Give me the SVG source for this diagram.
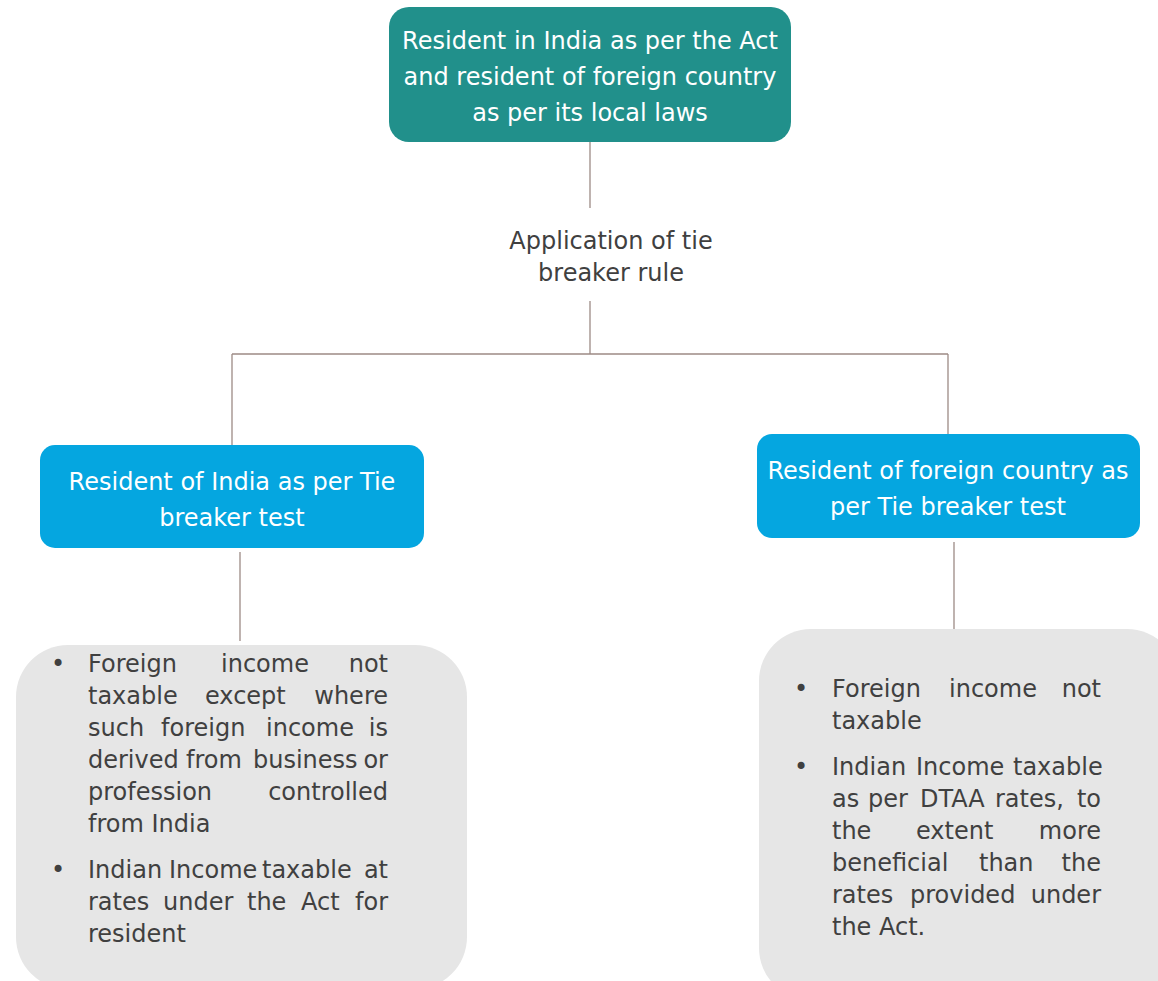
<svg xmlns="http://www.w3.org/2000/svg" width="1158" height="981" viewBox="0 0 1158 981">
<style>
text{font-family:"DejaVu Sans","Liberation Sans",sans-serif;font-size:24px}
.w{fill:#ffffff;text-anchor:middle}
.d{fill:#404040}
.e{fill:#404040;text-anchor:end}
.b{fill:#404040;text-anchor:middle}
.c{stroke:#9c8a85;stroke-width:1.3;fill:none}
</style>
<rect width="1158" height="981" fill="#ffffff"/>
<g id="connectors">
<line class="c" x1="590" y1="142" x2="590" y2="208"/>
<line class="c" x1="590" y1="301" x2="590" y2="354"/>
<line class="c" x1="232" y1="354" x2="948" y2="354"/>
<line class="c" x1="232" y1="354" x2="232" y2="445"/>
<line class="c" x1="948" y1="354" x2="948" y2="444"/>
<line class="c" x1="240" y1="552" x2="240" y2="641"/>
<line class="c" x1="954" y1="542" x2="954" y2="630"/>
</g>
<g id="top">
<rect x="389" y="7" width="402" height="135" rx="20" fill="#21908b"/>
<text class="w" x="590" y="49">Resident in India as per the Act</text>
<text class="w" x="590" y="85">and resident of foreign country</text>
<text class="w" x="590" y="121">as per its local laws</text>
</g>
<g id="tiebreaker">
<text class="b" x="611" y="249">Application of tie</text>
<text class="b" x="611" y="281">breaker rule</text>
</g>
<g id="india">
<rect x="40" y="445" width="384" height="103" rx="15" fill="#05a6e0"/>
<text class="w" x="232" y="490">Resident of India as per Tie</text>
<text class="w" x="232" y="526">breaker test</text>
</g>
<g id="foreign">
<rect x="757" y="434" width="383" height="104" rx="15" fill="#05a6e0"/>
<text class="w" x="948" y="479">Resident of foreign country as</text>
<text class="w" x="948" y="515">per Tie breaker test</text>
</g>
<g id="india-detail">
<rect x="16" y="645" width="451" height="344" rx="52" fill="#e6e6e6"/>
<text class="b" x="58" y="672">•</text>
<text class="d" x="88" y="672">Foreign</text><text class="d" x="221" y="672">income</text><text class="e" x="388" y="672">not</text>
<text class="d" x="88" y="704">taxable</text><text class="d" x="205" y="704">except</text><text class="e" x="388" y="704">where</text>
<text class="d" x="88" y="736">such</text><text class="d" x="161" y="736">foreign</text><text class="d" x="266" y="736">income</text><text class="e" x="388" y="736">is</text>
<text class="d" x="88" y="768">derived</text><text class="d" x="186" y="768">from</text><text class="d" x="253" y="768">business</text><text class="e" x="388" y="768">or</text>
<text class="d" x="88" y="800">profession</text><text class="e" x="388" y="800">controlled</text>
<text class="d" x="88" y="832">from India</text>
<text class="b" x="58" y="878">•</text>
<text class="d" x="88" y="878">Indian</text><text class="d" x="169" y="878">Income</text><text class="d" x="262" y="878">taxable</text><text class="e" x="388" y="878">at</text>
<text class="d" x="88" y="910">rates</text><text class="d" x="163" y="910">under</text><text class="d" x="247" y="910">the</text><text class="d" x="301" y="910">Act</text><text class="e" x="388" y="910">for</text>
<text class="d" x="88" y="942">resident</text>
</g>
<g id="foreign-detail">
<rect x="759" y="629" width="420" height="371" rx="52" fill="#e6e6e6"/>
<text class="b" x="801" y="697">•</text>
<text class="d" x="832" y="697">Foreign</text><text class="d" x="949" y="697">income</text><text class="e" x="1101" y="697">not</text>
<text class="d" x="832" y="729">taxable</text>
<text class="b" x="801" y="775">•</text>
<text class="d" x="832" y="775">Indian</text><text class="d" x="916" y="775">Income</text><text class="d" x="1013" y="775">taxable</text>
<text class="d" x="832" y="807">as</text><text class="d" x="868" y="807">per</text><text class="d" x="920" y="807">DTAA</text><text class="d" x="995" y="807">rates,</text><text class="e" x="1101" y="807">to</text>
<text class="d" x="832" y="839">the</text><text class="d" x="916" y="839">extent</text><text class="e" x="1101" y="839">more</text>
<text class="d" x="832" y="871">beneficial</text><text class="d" x="979" y="871">than</text><text class="e" x="1101" y="871">the</text>
<text class="d" x="832" y="903">rates</text><text class="d" x="910" y="903">provided</text><text class="e" x="1101" y="903">under</text>
<text class="d" x="832" y="935">the Act.</text>
</g>
</svg>
